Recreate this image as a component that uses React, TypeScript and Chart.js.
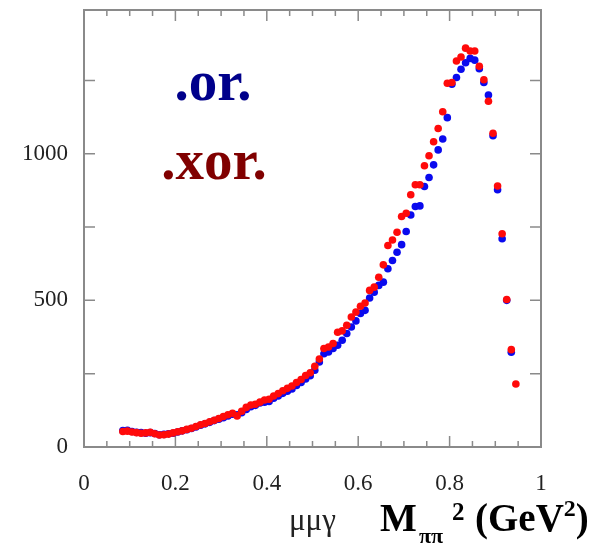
import React, { useEffect, useRef } from 'react';
import { Chart, registerables } from 'chart.js';

Chart.register(...registerables);

// Mππ² (GeV²) bin centres
const massSq = [
  0.085, 0.095, 0.105, 0.115, 0.125, 0.135, 0.145, 0.155, 0.165, 0.175,
  0.185, 0.195, 0.205, 0.215, 0.225, 0.235, 0.245, 0.255, 0.265, 0.275,
  0.285, 0.295, 0.305, 0.315, 0.325, 0.335, 0.345, 0.355, 0.365, 0.375,
  0.385, 0.395, 0.405, 0.415, 0.425, 0.435, 0.445, 0.455, 0.465, 0.475,
  0.485, 0.495, 0.505, 0.515, 0.525, 0.535, 0.545, 0.555, 0.565, 0.575,
  0.585, 0.595, 0.605, 0.615, 0.625, 0.635, 0.645, 0.655, 0.665, 0.675,
  0.685, 0.695, 0.705, 0.715, 0.725, 0.735, 0.745, 0.755, 0.765, 0.775,
  0.785, 0.795, 0.805, 0.815, 0.825, 0.835, 0.845, 0.855, 0.865, 0.875,
  0.885, 0.895, 0.905, 0.915, 0.925, 0.935, 0.945,
];

// ".xor." series (red)
const xorCounts = [
  53, 54, 51, 49, 47, 48, 50, 45, 41, 42,
  44, 48, 52, 55, 60, 64, 70, 76, 80, 86,
  91, 97, 104, 110, 115, 106, 122, 135, 143, 146,
  153, 160, 163, 174, 182, 192, 200, 208, 220, 230,
  244, 253, 275, 300, 336, 341, 353, 391, 396, 415,
  443, 460, 480, 491, 534, 545, 579, 621, 687, 706,
  732, 786, 797, 860, 894, 894, 959, 993, 1041, 1086,
  1143, 1240, 1243, 1316, 1330, 1360, 1350, 1350, 1298, 1252,
  1179, 1070, 890, 727, 503, 332, 215,
];

// ".or." series (blue)
const orCounts = [
  56, 57, 53, 50, 49, 47, 49, 46, 42, 43,
  45, 47, 51, 55, 59, 63, 68, 74, 79, 84,
  90, 95, 100, 106, 112, 110, 117, 128, 137, 142,
  150, 153, 155, 166, 174, 183, 190, 198, 210, 220,
  232, 243, 262, 290, 318, 324, 336, 347, 364, 387,
  409, 430, 455, 466, 508, 528, 551, 562, 608, 636,
  664, 690, 735, 791, 820, 822, 888, 919, 962, 1013,
  1050, 1123, 1237, 1260, 1288, 1310, 1325, 1319, 1290, 1243,
  1200, 1061, 877, 710, 500, 323,
];

const yLabelValues = [0, 500, 1000];
const xMajorTicks = [0, 0.2, 0.4, 0.6, 0.8, 1];
const xMinorTicks = [0.05, 0.1, 0.15, 0.25, 0.3, 0.35, 0.45, 0.5, 0.55, 0.65, 0.7, 0.75, 0.85, 0.9, 0.95];
const yTicks = [250, 500, 750, 1000, 1250];

const SERIF = '"Liberation Serif", "Times New Roman", Times, serif';

const framePlugin = {
  id: 'frameTicks',
  beforeDatasetsDraw(chart: any) {
    const { ctx, chartArea, scales } = chart;
    const { left, right, top, bottom } = chartArea;
    ctx.save();
    ctx.strokeStyle = '#8a8a8a';
    ctx.lineWidth = 1.5;
    ctx.beginPath();
    const tick = (x1: number, y1: number, x2: number, y2: number) => {
      ctx.moveTo(x1, y1);
      ctx.lineTo(x2, y2);
    };
    xMajorTicks.forEach((v) => {
      const px = scales.x.getPixelForValue(v);
      tick(px, bottom, px, bottom - 11);
      tick(px, top, px, top + 11);
    });
    xMinorTicks.forEach((v) => {
      const px = scales.x.getPixelForValue(v);
      tick(px, bottom, px, bottom - 6);
      tick(px, top, px, top + 6);
    });
    yTicks.forEach((v) => {
      const py = scales.y.getPixelForValue(v);
      tick(left, py, left + 11, py);
      tick(right, py, right - 11, py);
    });
    ctx.stroke();
    ctx.lineWidth = 2;
    ctx.strokeRect(left, top, right - left, bottom - top);
    ctx.restore();
  },
  afterDraw(chart: any) {
    const { ctx } = chart;
    ctx.save();
    ctx.textBaseline = 'alphabetic';
    ctx.textAlign = 'center';
    ctx.font = `bold 57px ${SERIF}`;
    ctx.fillStyle = '#00008b';
    ctx.fillText('.or.', 213, 100);
    ctx.fillStyle = '#800000';
    ctx.fillText('.xor.', 214, 179);

    ctx.textAlign = 'left';
    ctx.fillStyle = '#222222';
    ctx.font = `31px ${SERIF}`;
    ctx.fillText('μμγ', 289, 530);

    ctx.fillStyle = '#000000';
    ctx.font = `bold 39px ${SERIF}`;
    ctx.fillText('M', 380, 531);
    ctx.font = `bold 22px ${SERIF}`;
    ctx.fillText('ππ', 419, 543);
    ctx.font = `bold 25px ${SERIF}`;
    ctx.fillText('2', 452, 520);
    ctx.font = `bold 39px ${SERIF}`;
    let x = 475;
    ctx.fillText('(GeV', x, 531);
    x += ctx.measureText('(GeV').width;
    ctx.font = `bold 24px ${SERIF}`;
    ctx.fillText('2', x, 516);
    x += ctx.measureText('2').width;
    ctx.font = `bold 39px ${SERIF}`;
    ctx.fillText(')', x, 531);
    ctx.restore();
  },
};

export default function App() {
  const canvasRef = useRef<HTMLCanvasElement | null>(null);

  useEffect(() => {
    document.body.style.margin = '0';
    const canvas = canvasRef.current;
    if (!canvas) return;
    const chart = new Chart(canvas, {
      type: 'scatter',
      data: {
        datasets: [
          {
            label: '.xor.',
            data: massSq.map((m, i) => ({ x: m, y: xorCounts[i] })),
            backgroundColor: '#ff0a0a',
            borderWidth: 0,
            pointRadius: 3.8,
          },
          {
            label: '.or.',
            data: orCounts.map((c, i) => ({ x: massSq[i], y: c })),
            backgroundColor: '#0a0aee',
            borderWidth: 0,
            pointRadius: 3.8,
          },
        ],
      },
      plugins: [framePlugin],
      options: {
        animation: false,
        responsive: true,
        maintainAspectRatio: false,
        layout: { padding: { left: 0, right: 55, top: 10, bottom: 0 } },
        plugins: {
          legend: { display: false },
          tooltip: { enabled: false },
        },
        scales: {
          x: {
            type: 'linear',
            min: 0,
            max: 1,
            border: { display: false },
            grid: { display: false, drawTicks: false },
            ticks: {
              stepSize: 0.2,
              padding: 23,
              color: '#222222',
              font: { family: SERIF, size: 23 },
              callback: (v: any) => String(Math.round(Number(v) * 10) / 10),
            },
            afterFit: (s: any) => {
              s.height = 98;
              s.paddingLeft = 0;
              s.paddingRight = 0;
            },
          },
          y: {
            type: 'linear',
            min: 0,
            max: 1490,
            border: { display: false },
            grid: { display: false, drawTicks: false },
            afterBuildTicks: (s: any) => {
              s.ticks = yLabelValues.map((v) => ({ value: v }));
            },
            ticks: {
              padding: 16,
              color: '#222222',
              font: { family: SERIF, size: 23 },
              callback: (v: any) => String(v),
            },
            afterFit: (s: any) => {
              s.width = 84;
              s.paddingTop = 0;
              s.paddingBottom = 0;
            },
          },
        },
      },
    });
    return () => chart.destroy();
  }, []);

  return (
    <div style={{ position: 'absolute', left: 0, top: 0, width: 596, height: 545, background: '#ffffff' }}>
      <canvas ref={canvasRef} />
    </div>
  );
}
